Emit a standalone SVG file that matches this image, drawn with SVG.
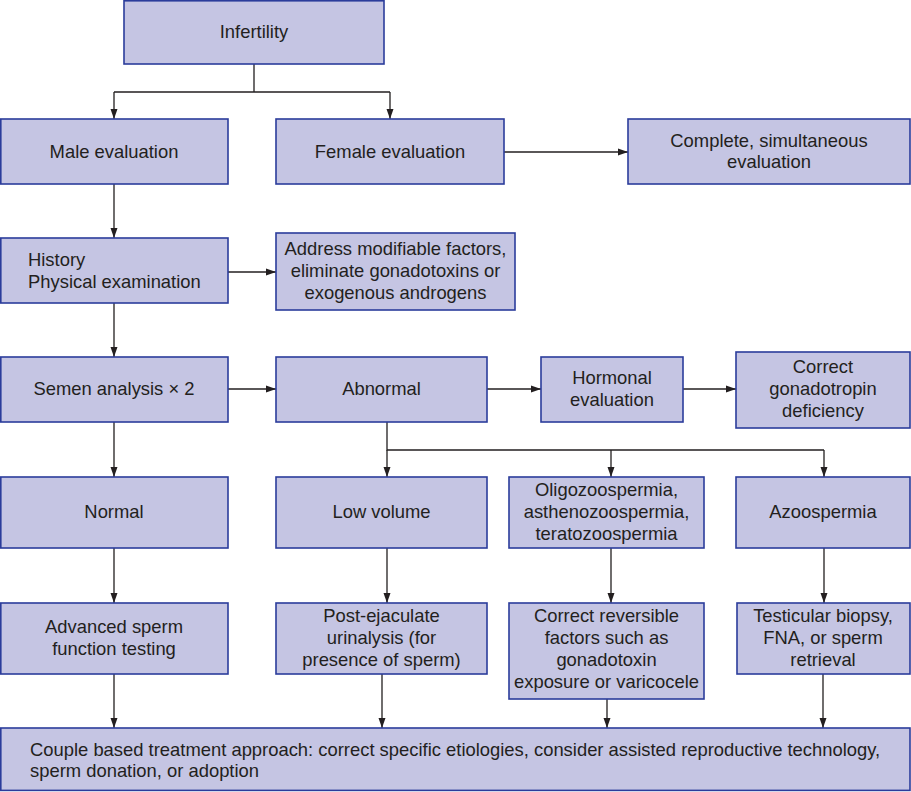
<svg xmlns="http://www.w3.org/2000/svg" width="911" height="792" viewBox="0 0 911 792">
<style>
.n rect{fill:#c5c5e3;stroke:#2b3c9b;stroke-width:1.6}
.n text{font-family:"Liberation Sans",Arial,sans-serif;font-size:18.4px;fill:#231f20;text-anchor:middle}
.n text.l{text-anchor:start}
#edges path{fill:none;stroke:#231f20;stroke-width:1.3}
</style>
<defs>
<marker id="a" markerUnits="userSpaceOnUse" markerWidth="10" markerHeight="8" refX="10" refY="4" orient="auto">
<path d="M0,0.5 L10,4 L0,7.5 Z" fill="#231f20"/>
</marker>
</defs>
<rect width="911" height="792" fill="#fff"/>
<g id="edges">
<path d="M254,64 V92 M114,92 H390"/>
<path d="M114,92 V119" marker-end="url(#a)"/>
<path d="M390,92 V119" marker-end="url(#a)"/>
<path d="M504,152 H628" marker-end="url(#a)"/>
<path d="M114,184 V238" marker-end="url(#a)"/>
<path d="M228,272 H276" marker-end="url(#a)"/>
<path d="M114,303 V357" marker-end="url(#a)"/>
<path d="M228,389 H276" marker-end="url(#a)"/>
<path d="M487,389 H541" marker-end="url(#a)"/>
<path d="M683,389 H736" marker-end="url(#a)"/>
<path d="M114,422 V477" marker-end="url(#a)"/>
<path d="M387,422 V450 H824"/>
<path d="M387,450 V477" marker-end="url(#a)"/>
<path d="M611,450 V477" marker-end="url(#a)"/>
<path d="M824,450 V477" marker-end="url(#a)"/>
<path d="M114,548 V603" marker-end="url(#a)"/>
<path d="M387,548 V603" marker-end="url(#a)"/>
<path d="M611,548 V603" marker-end="url(#a)"/>
<path d="M824,548 V603" marker-end="url(#a)"/>
<path d="M114,674 V728" marker-end="url(#a)"/>
<path d="M382,674 V728" marker-end="url(#a)"/>
<path d="M607,699 V728" marker-end="url(#a)"/>
<path d="M823,674 V728" marker-end="url(#a)"/>
</g>
<g id="infertility" class="n"><rect x="124" y="0.8" width="260" height="63.2"/><text x="254" y="38">Infertility</text></g>
<g id="male" class="n"><rect x="0.8" y="119" width="227.2" height="65"/><text x="114" y="158">Male evaluation</text></g>
<g id="female" class="n"><rect x="276" y="119" width="228" height="65"/><text x="390" y="158">Female evaluation</text></g>
<g id="complete" class="n"><rect x="628" y="119" width="282" height="65"/><text x="769" y="147">Complete, simultaneous</text><text x="769" y="168">evaluation</text></g>
<g id="history" class="n"><rect x="0.8" y="238" width="227.2" height="65"/><text class="l" x="28" y="266">History</text><text class="l" x="28" y="288">Physical examination</text></g>
<g id="address" class="n"><rect x="276" y="233" width="239" height="77"/><text x="395.5" y="255">Address modifiable factors,</text><text x="395.5" y="277">eliminate gonadotoxins or</text><text x="395.5" y="299">exogenous androgens</text></g>
<g id="semen" class="n"><rect x="0.8" y="357" width="227.2" height="65"/><text x="114" y="395">Semen analysis × 2</text></g>
<g id="abnormal" class="n"><rect x="276" y="357" width="211" height="65"/><text x="381.5" y="395">Abnormal</text></g>
<g id="hormonal" class="n"><rect x="541" y="357" width="142" height="65"/><text x="612" y="384">Hormonal</text><text x="612" y="406">evaluation</text></g>
<g id="gonadotropin" class="n"><rect x="736" y="352" width="174" height="76"/><text x="823" y="373">Correct</text><text x="823" y="395">gonadotropin</text><text x="823" y="417">deficiency</text></g>
<g id="normal" class="n"><rect x="0.8" y="477" width="227.2" height="71"/><text x="114" y="518">Normal</text></g>
<g id="lowvolume" class="n"><rect x="276" y="477" width="211" height="71"/><text x="381.5" y="518">Low volume</text></g>
<g id="oligo" class="n"><rect x="509" y="477" width="195" height="71"/><text x="606.5" y="496">Oligozoospermia,</text><text x="606.5" y="518">asthenozoospermia,</text><text x="606.5" y="540">teratozoospermia</text></g>
<g id="azoospermia" class="n"><rect x="736" y="477" width="174" height="71"/><text x="823" y="518">Azoospermia</text></g>
<g id="advanced" class="n"><rect x="0.8" y="603" width="227.2" height="71"/><text x="114" y="633">Advanced sperm</text><text x="114" y="655">function testing</text></g>
<g id="postejac" class="n"><rect x="276" y="603" width="211" height="71"/><text x="381.5" y="622">Post-ejaculate</text><text x="381.5" y="644">urinalysis (for</text><text x="381.5" y="666">presence of sperm)</text></g>
<g id="reversible" class="n"><rect x="509" y="603" width="195" height="96"/><text x="606.5" y="622">Correct reversible</text><text x="606.5" y="644">factors such as</text><text x="606.5" y="666">gonadotoxin</text><text x="606.5" y="688">exposure or varicocele</text></g>
<g id="testicular" class="n"><rect x="737" y="603" width="173" height="71"/><text x="823" y="622">Testicular biopsy,</text><text x="823" y="644">FNA, or sperm</text><text x="823" y="666">retrieval</text></g>
<g id="couple" class="n"><rect x="0.8" y="728" width="909.2" height="62.4"/><text class="l" x="30" y="756">Couple based treatment approach: correct specific etiologies, consider assisted reproductive technology,</text><text class="l" x="30" y="777">sperm donation, or adoption</text></g>
</svg>
